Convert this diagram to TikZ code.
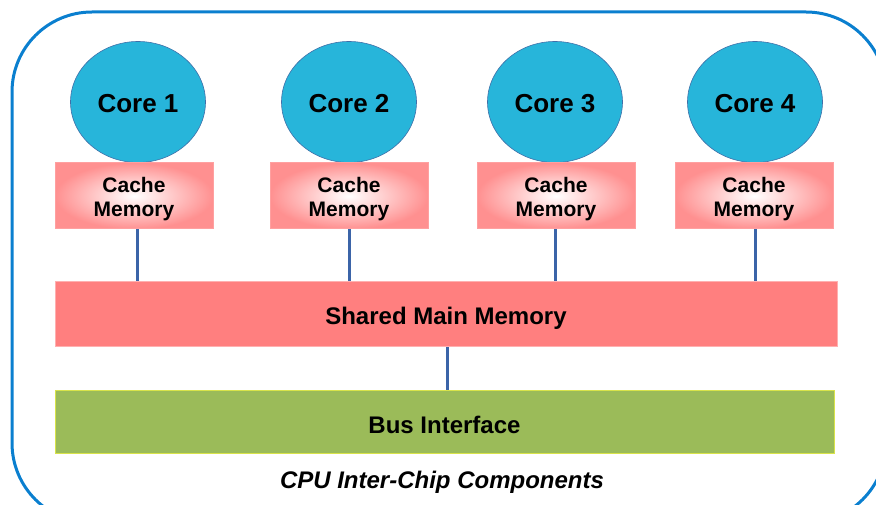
\documentclass[tikz,border=0pt]{standalone}
\usepackage{fontspec}
\setmainfont{Liberation Sans}
\usetikzlibrary{shapes.geometric}
\definecolor{outerblue}{HTML}{0A7FCF}
\definecolor{corefill}{HTML}{27B5DA}
\definecolor{coreline}{HTML}{3F6FA8}
\definecolor{linkblue}{HTML}{3B64A8}
\definecolor{cacheout}{HTML}{FF9090}
\definecolor{cacheline}{HTML}{FFA0A0}
\definecolor{memfill}{HTML}{FF7F7F}
\definecolor{memline}{HTML}{FFB0B0}
\definecolor{busfill}{HTML}{9BBB59}
\definecolor{busline}{HTML}{D8E34A}
\newcommand{\lowertxt}[2]{\raisebox{-#1}[\height][\depth]{#2}}
\newcommand{\cachetxt}{\lowertxt{3.5pt}{\begin{tabular}{@{}c@{}}Cache\\[-1pt]Memory\end{tabular}}}
\tikzset{
  core/.style={ellipse, draw=coreline, line width=0.6pt, fill=corefill,
    minimum width=135pt, minimum height=121pt, inner sep=0pt,
    font=\fontsize{26}{30}\selectfont\bfseries},
  cachebox/.style={rectangle, draw=cacheline, line width=1pt, inner color=white, outer color=cacheout,
    minimum width=158pt, minimum height=66pt, inner sep=0pt, align=center,
    font=\fontsize{21}{25}\selectfont\bfseries},
  wide/.style={rectangle, line width=1pt, minimum height=65pt, inner sep=0pt,
    font=\fontsize{24}{28}\selectfont\bfseries},
  link/.style={draw=linkblue, line width=3pt}
}
\begin{document}
\begin{tikzpicture}[x=1pt,y=-1pt]
\useasboundingbox (0,0) rectangle (876,505);
\begin{scope}
\clip (0,0) rectangle (876,505);
\draw[outerblue, line width=3pt, rounded corners=80pt] (12,12) rectangle (886,523);
\end{scope}
\node[core] (c1) at (138,102) {\lowertxt{2pt}{Core 1}};
\node[core] (c2) at (349,102) {\lowertxt{2pt}{Core 2}};
\node[core] (c3) at (555,102) {\lowertxt{2pt}{Core 3}};
\node[core] (c4) at (755,102) {\lowertxt{2pt}{Core 4}};
\node[cachebox] (m1) at (134,196) {\cachetxt};
\node[cachebox] (m2) at (349,196) {\cachetxt};
\node[cachebox] (m3) at (556,196) {\cachetxt};
\node[cachebox] (m4) at (754,196) {\cachetxt};
\node[wide, draw=memline, fill=memfill, minimum width=782pt] (sm) at (446,314) {\lowertxt{4pt}{Shared Main Memory}};
\node[wide, draw=busline, fill=busfill, minimum width=779pt, minimum height=63pt] (bus) at (444.5,421.5) {\lowertxt{3pt}{Bus Interface}};
\node[font=\fontsize{24}{28}\selectfont\bfseries\itshape] (cap) at (442,482) {CPU Inter-Chip Components};
\draw[link] (m1.south -| 137,0) -- (137,281);
\draw[link] (m2.south) -- (sm.north -| m2.south);
\draw[link] (m3.south -| 555,0) -- (555,281);
\draw[link] (m4.south -| 755,0) -- (755,281);
\draw[link] (sm.south -| 447,0) -- (bus.north -| 447,0);
\end{tikzpicture}
\end{document}
